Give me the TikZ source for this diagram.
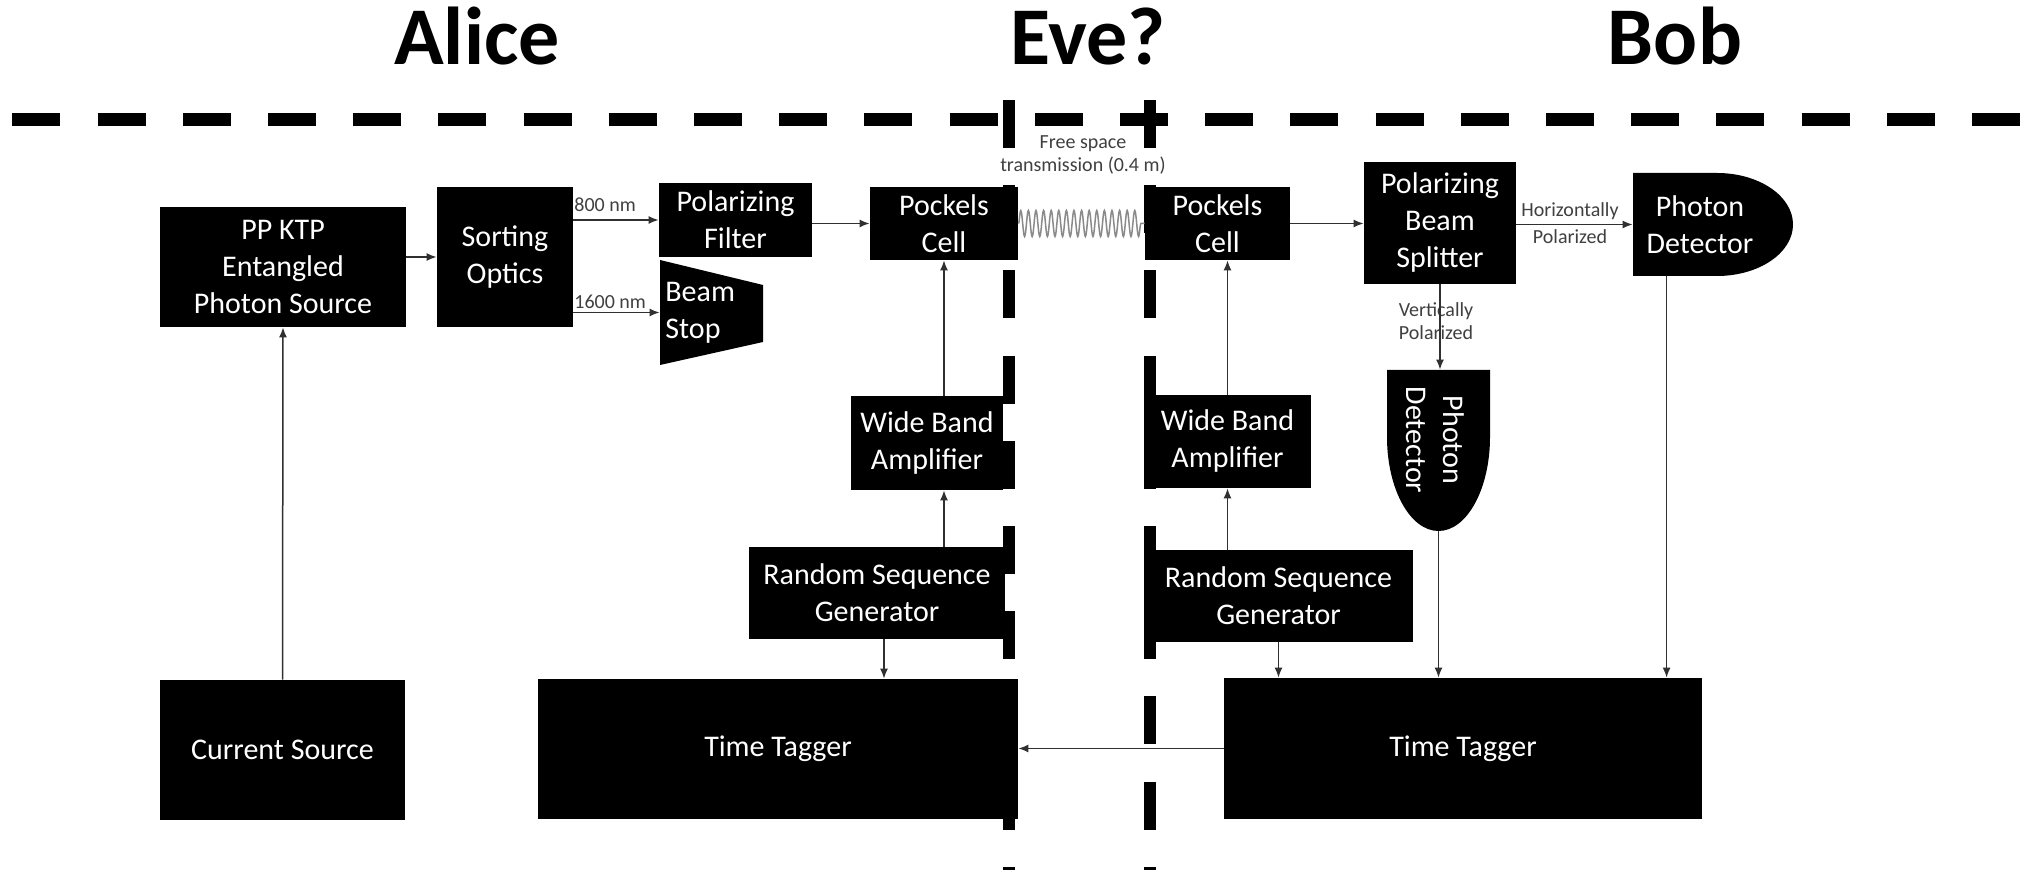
\documentclass[tikz,border=0pt]{standalone}
\usepackage{fontspec}
\setmainfont{Carlito}
\usetikzlibrary{arrows.meta,decorations.pathmorphing,calc}
\definecolor{arrgray}{HTML}{303030}
\definecolor{lblgray}{HTML}{404040}
\definecolor{coilgray}{HTML}{8A8A8A}
\tikzset{
  sz/.style 2 args={minimum width={#1*0.5pt}, minimum height={#2*0.5pt}},
  blk/.style={fill=black, text=white, inner sep=0pt, align=center, font=\fontsize{15}{18.5}\selectfont},
  ghost/.style={inner sep=0pt},
  arr/.style={draw=arrgray, line width=0.75pt, -{Latex[length=5pt,width=4pt]}},
  lbl/.style={text=lblgray, font=\fontsize{10}{11.5}\selectfont, inner sep=0pt, align=center},
  ttl/.style={font=\fontsize{41}{45}\selectfont\bfseries, anchor=base},
  bar/.style={line width=6.5pt, dash pattern=on 24pt off 18.6pt},
  coil/.style={draw=coilgray, line width=0.75pt, decorate, decoration={snake, segment length=3.8pt, amplitude=6.5pt}},
}
\begin{document}
\begin{tikzpicture}[x=0.5pt,y=-0.5pt]
\useasboundingbox[fill=white] (0,0) rectangle (2020,870);

% titles
\node[ttl] (alice) at (477,65) {Alice};
\node[ttl] (eve) at (1088,65) {Eve?};
\node[ttl] (bob) at (1675,65) {Bob};

% dashed separators
\draw[bar] (12.4,120) -- (2020,120);
\draw[bar, line width=6pt] (1009,100) -- (1009,870);
\draw[bar, line width=6pt] (1150,100) -- (1150,870);

% Alice side
\node[blk, sz={246}{120}] (ppktp) at (283,267) {PP KTP\\Entangled\\Photon Source};
\node[blk, sz={136}{140}] (sort) at (505,257) {Sorting\\Optics};
\node[blk, sz={153}{74}] (polf) at (735.5,220) {Polarizing\\Filter};
\fill (660,260) -- (763,285) -- (763,342) -- (660,365) -- cycle;
\node[ghost, sz={103}{105}] (bstop) at (711.5,312.5) {};
\node[blk, fill=none, align=left, anchor=west] (bstopt) at (665,313) {Beam\\Stop};
\node[blk, sz={148}{73}] (pkA) at (944,223.5) {Pockels\\Cell};
\node[blk, sz={152}{94}] (wbA) at (927,443) {Wide Band\\Amplifier};
\node[blk, sz={256}{92}] (rsgA) at (877,593) {Random Sequence\\Generator};
\node[blk, sz={480}{140}] (ttA) at (778,749) {Time Tagger};
\node[blk, sz={245}{140}] (cs) at (282.5,750) {Current Source};

% Bob side
\node[blk, sz={145}{73}] (pkB) at (1217.5,223.5) {Pockels\\Cell};
\node[blk, sz={167}{93}] (wbB) at (1227.5,441.5) {Wide Band\\Amplifier};
\node[blk, sz={269}{92}] (rsgB) at (1278.5,596) {Random Sequence\\Generator};
\node[blk, sz={478}{141}] (ttB) at (1463,748.5) {Time Tagger};
\node[blk, sz={152}{122}] (pbs) at (1440,223) {Polarizing\\Beam\\Splitter};

% photon detectors
\fill (1633,173) -- (1717,173) arc[start angle=-90, end angle=90, x radius=76, y radius=51.5] -- (1633,276) -- cycle;
\node[ghost, sz={160}{103}] (pdH) at (1713,224.5) {};
\node[blk, fill=none] (pdHt) at (1700,224.5) {Photon\\Detector};
\fill (1387,370) -- (1490,370) -- (1490,437) arc[start angle=0, end angle=180, x radius=51.5, y radius=94] -- cycle;
\node[ghost, sz={103}{161}] (pdV) at (1438.5,450.5) {};
\node[blk, fill=none, rotate=-90] (pdVt) at (1435,440) {Photon\\Detector};

% labels
\node[lbl, anchor=west] (l800) at (574,205) {800 nm};
\node[lbl, anchor=west] (l1600) at (574,302) {1600 nm};
\node[lbl] (lfree) at (1083,155) {Free space\\transmission (0.4 m)};
\node[lbl] (lh1) at (1570,211) {Horizontally};
\node[lbl] (lh2) at (1570,237) {Polarized};
\node[lbl] (lv) at (1436,321) {Vertically\\Polarized};

% connectors
\draw[arr] (cs.north) -- (ppktp.south);
\draw[arr] (ppktp.east |- sort.west) -- (sort.west);
\draw[arr] (sort.east |- polf.west) -- (polf.west);
\draw[arr] (sort.east |- bstop.west) -- (bstop.west);
\draw[arr] (polf.east |- pkA.west) -- (pkA.west);
\draw[arr] (wbA.north -| pkA.south) -- (pkA.south);
\draw[arr] (rsgA.north -| pkA.south) -- (wbA.south -| pkA.south);
\coordinate (rsgAo) at ($(rsgA.south)+(7,0)$);
\draw[arr] (rsgAo) -- (rsgAo |- ttA.north);
\draw[coil] (pkA.east) -- (pkB.west);
\draw[arr] (pkB.east) -- (pbs.west |- pkB.east);
\draw[arr] (wbB.north) -- (wbB.north |- pkB.south);
\draw[arr] (rsgB.north -| wbB.south) -- (wbB.south);
\draw[arr] (rsgB.south) -- (rsgB.south |- ttB.north);
\draw[arr] (pbs.east |- pdH.west) -- (pdH.west);
\draw[arr] (pbs.south) -- (pbs.south |- pdV.north);
\draw[arr] (pdV.south) -- (pdV.south |- ttB.north);
\coordinate (pdHo) at ($(pdH.south west)+(34,0)$);
\draw[arr] (pdHo) -- (pdHo |- ttB.north);
\draw[arr] (ttB.west) -- (ttA.east |- ttB.west);
\end{tikzpicture}
\end{document}
